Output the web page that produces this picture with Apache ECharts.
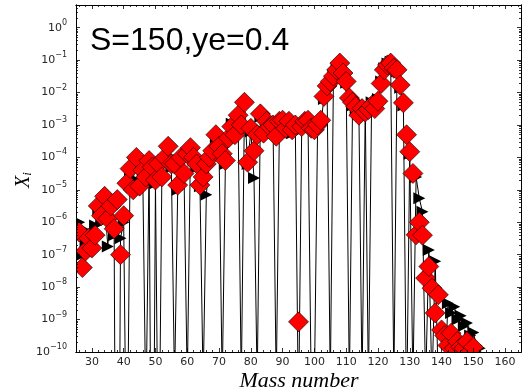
<!DOCTYPE html>
<html>
<head>
<meta charset="utf-8">
<script src="https://cdn.jsdelivr.net/npm/echarts@6/dist/echarts.min.js"></script>
<style>
  html, body { margin: 0; padding: 0; background: #fff; }
  #chart { width: 530px; height: 392px; }
</style>
</head>
<body>
<div id="chart"></div>
<script>
// Mass numbers A of the abundance distribution
const massNumber = [
  26, 27, 28, 29, 30, 31, 32, 33, 34, 35, 36, 37, 38, 39, 40, 41, 42, 43, 44, 45,
  46, 47, 48, 49, 50, 51, 52, 53, 54, 55, 56, 57, 58, 59, 60, 61, 62, 63, 64, 65,
  66, 67, 68, 69, 70, 71, 72, 73, 74, 75, 76, 77, 78, 79, 80, 81, 82, 83, 84, 85,
  86, 87, 88, 89, 90, 91, 92, 93, 94, 95, 96, 97, 98, 99, 100, 101, 102, 103, 104, 105,
  106, 107, 108, 109, 110, 111, 112, 113, 114, 115, 116, 117, 118, 119, 120, 121, 122, 123, 124, 125,
  126, 127, 128, 129, 130, 131, 132, 133, 134, 135, 136, 137, 138, 139, 140, 141, 142, 143, 144, 145,
  146, 147, 148, 149, 150, 151, 152, 153
];

// Mass fractions X_i, network run (black line with triangles); tiny entries fall below the axis
const xiTriangle = [
  1.0e-6, 1.0e-7, 2.5e-7, 5.0e-7, 1.3e-7, 7.9e-7, 2.5e-6, 1.0e-6, 5.0e-6, 1.8e-7,
  6.3e-6, 4.0e-7, 1.0e-26, 3.2e-7, 1.0e-6, 1.0e-15, 4.0e-5, 2.2e-5, 7.9e-5, 1.0e-5,
  3.2e-5, 1.0e-12, 6.3e-5, 1.0e-20, 1.6e-5, 1.0e-15, 2.0e-5, 7.9e-5, 1.6e-4, 5.0e-5,
  1.0e-11, 1.0e-5, 7.9e-5, 2.5e-5, 1.0e-11, 1.6e-4, 7.9e-5, 5.0e-5, 1.3e-5, 1.0e-11,
  7.1e-6, 7.9e-5, 1.3e-4, 4.0e-4, 2.0e-4, 1.0e-11, 6.3e-5, 3.2e-4, 1.1e-3, 4.0e-4,
  1.6e-3, 1.0e-11, 4.0e-3, 6.3e-5, 6.3e-4, 2.3e-5, 1.0e-11, 1.8e-3, 4.5e-4, 1.0e-3,
  7.9e-4, 7.9e-4, 1.0e-11, 1.0e-3, 1.1e-3, 6.3e-4, 1.0e-3, 5.6e-4, 7.9e-4, 1.0e-12,
  7.1e-4, 1.0e-3, 1.1e-3, 1.0e-11, 1.0e-11, 7.9e-4, 1.1e-3, 6.3e-3, 1.3e-2, 1.0e-11,
  3.5e-2, 5.6e-2, 7.1e-2, 4.5e-2, 2.0e-2, 1.0e-11, 4.0e-3, 2.8e-3, 2.5e-3, 1.0e-11,
  3.2e-3, 1.0e-11, 5.0e-3, 3.5e-3, 6.3e-3, 2.2e-2, 5.6e-2, 7.9e-2, 8.9e-2, 1.0e-11,
  4.5e-2, 1.4e-2, 4.0e-3, 1.0e-12, 1.3e-4, 1.0e-11, 2.5e-5, 5.5e-6, 2.1e-6, 1.0e-11,
  1.4e-7, 1.0e-11, 6.3e-8, 1.0e-11, 1.0e-11, 1.0e-11, 3.2e-9, 1.6e-9, 2.5e-9, 1.0e-9,
  1.3e-9, 6.3e-10, 7.9e-10, 3.2e-10, 4.0e-10, 1.6e-10, 1.3e-10, 6.3e-11
];

// Mass fractions X_i, comparison run (red diamonds)
const xiDiamond = [
  5.0e-7, 4.0e-8, 1.3e-7, 3.2e-7, 1.6e-7, 4.0e-7, 3.2e-6, 1.6e-6, 6.3e-6, 1.3e-6,
  3.2e-6, 6.3e-7, 5.0e-6, 1.0e-7, 1.6e-6, 1.6e-5, 4.5e-5, 1.0e-5, 1.0e-4, 1.3e-5,
  4.0e-5, 2.5e-5, 8.0e-5, 5.0e-5, 2.0e-5, 6.3e-5, 2.5e-5, 1.0e-4, 2.2e-4, 6.3e-5,
  6.3e-5, 1.4e-5, 1.0e-4, 3.2e-5, 1.3e-4, 2.0e-4, 1.0e-4, 6.3e-5, 1.4e-5, 2.5e-5,
  6.3e-5, 1.0e-4, 1.6e-4, 5.0e-4, 2.2e-4, 1.3e-4, 8.0e-5, 4.0e-4, 8.9e-4, 5.0e-4,
  2.0e-3, 1.0e-3, 5.0e-3, 7.1e-5, 7.9e-4, 1.6e-4, 5.0e-4, 2.2e-3, 5.6e-4, 1.3e-3,
  8.9e-4, 1.0e-3, 4.5e-4, 1.3e-3, 1.4e-3, 7.9e-4, 1.3e-3, 7.1e-4, 1.0e-3, 8.5e-10,
  8.9e-4, 1.3e-3, 1.4e-3, 7.9e-4, 7.1e-4, 1.0e-3, 1.4e-3, 7.6e-3, 1.6e-2, 2.2e-2,
  3.2e-2, 5.0e-2, 8.1e-2, 4.0e-2, 2.2e-2, 6.8e-3, 5.0e-3, 3.7e-3, 2.0e-3, 3.2e-3,
  2.5e-3, 3.0e-3, 4.0e-3, 3.2e-3, 5.4e-3, 1.9e-2, 5.0e-2, 7.1e-2, 8.1e-2, 5.6e-2,
  5.0e-2, 1.7e-2, 4.8e-3, 5.0e-4, 1.5e-4, 3.2e-5, 4.1e-7, 1.0e-6, 4.0e-7, 1.9e-8,
  4.3e-8, 9.3e-9, 1.6e-9, 5.8e-9, 4.8e-10, 3.2e-10, 1.6e-10, 3.8e-10, 1.3e-10, 2.1e-10,
  1.4e-10, 1.3e-10, 2.1e-10, 1.0e-10, 1.4e-10, 7.9e-11, 6.3e-11, null
];

// Axis ticks
const xTickValues = [30, 40, 50, 60, 70, 80, 90, 100, 110, 120, 130, 140, 150, 160];
const yTickValues = [1e-10, 1e-9, 1e-8, 1e-7, 1e-6, 1e-5, 1e-4, 1e-3, 1e-2, 1e-1, 1e0];

const X_MIN = 25, X_MAX = 165, Y_MIN = 1e-10, Y_MAX = 5;

// minor tick positions
const xMinor = [];
for (let v = 26; v < X_MAX; v += 2) if (v % 10 !== 0) xMinor.push(v);
const yMinor = [];
for (let e = -10; e <= 0; e++) for (let m = 2; m <= 9; m++) {
  const v = m * Math.pow(10, e);
  if (v <= Y_MAX) yMinor.push(v);
}

const INK = '#000';
const LABEL = '#262626';

function supLabel(v) {
  const e = Math.round(Math.log10(v));
  const s = e < 0 ? '\u2212' + (-e) : String(e);
  return '{b|10}{s|' + s + '}';
}

function xAxisCfg(position, ticks, len, withLabels) {
  return {
    type: 'value', gridIndex: 0, position: position, min: X_MIN, max: X_MAX, z: 10,
    axisLine: { show: withLabels !== null, lineStyle: { color: INK, width: 1 } },
    axisTick: { show: true, inside: true, length: len, customValues: ticks,
      lineStyle: { color: INK, width: 0.8 } },
    axisLabel: withLabels ? {
      show: true, customValues: xTickValues, margin: 5, fontSize: 11,
      fontFamily: 'DejaVu Sans', color: LABEL
    } : { show: false },
    splitLine: { show: false }
  };
}

function yAxisCfg(position, ticks, len, withLabels) {
  return {
    type: 'log', logBase: 10, gridIndex: 0, position: position, min: Y_MIN, max: Y_MAX, z: 10,
    axisLine: { show: withLabels !== null, lineStyle: { color: INK, width: 1 } },
    axisTick: { show: true, inside: true, length: len, customValues: ticks,
      lineStyle: { color: INK, width: 0.8 } },
    axisLabel: withLabels ? {
      show: true, customValues: yTickValues, margin: 9, formatter: supLabel,
      rich: {
        b: { fontSize: 11, fontFamily: 'DejaVu Sans', color: LABEL },
        s: { fontSize: 8, fontFamily: 'DejaVu Sans', color: LABEL, padding: [0, 0, 10, 0] }
      }
    } : { show: false },
    splitLine: { show: false }
  };
}

const triangleData = massNumber.map((a, i) => [a, xiTriangle[i]]);
const diamondData = [];
massNumber.forEach((a, i) => { if (xiDiamond[i] !== null) diamondData.push([a, xiDiamond[i]]); });

const chart = echarts.init(document.getElementById('chart'), null, { renderer: 'canvas' });
chart.setOption({
  animation: false,
  backgroundColor: '#fff',
  grid: { left: 76, right: 9, top: 5, bottom: 40, containLabel: false },
  xAxis: [
    xAxisCfg('bottom', xTickValues, 4, true),
    xAxisCfg('bottom', xMinor, 2, false),
    xAxisCfg('top', xTickValues, 4, false),
    xAxisCfg('top', xMinor, 2, false)
  ],
  yAxis: [
    yAxisCfg('left', yTickValues, 4, true),
    yAxisCfg('left', yMinor, 2, false),
    yAxisCfg('right', yTickValues, 4, false),
    yAxisCfg('right', yMinor, 2, false)
  ],
  series: [
    {
      type: 'line', xAxisIndex: 0, yAxisIndex: 0, data: triangleData,
      clip: true, z: 2,
      lineStyle: { color: INK, width: 1 },
      symbol: 'triangle', symbolRotate: -90, symbolSize: 12, showSymbol: true,
      itemStyle: { color: INK, borderWidth: 0 }
    },
    {
      type: 'scatter', xAxisIndex: 0, yAxisIndex: 0, data: diamondData,
      clip: true, z: 3,
      symbol: 'diamond', symbolSize: 20,
      itemStyle: { color: '#ff0000', borderColor: '#000', borderWidth: 0.6, opacity: 1 }
    }
  ],
  graphic: [
    // keep markers inside the frame
    { type: 'rect', z: 5, silent: true, shape: { x: 0, y: 0, width: 76, height: 392 }, style: { fill: '#fff' } },
    { type: 'rect', z: 5, silent: true, shape: { x: 0, y: 352.5, width: 530, height: 40 }, style: { fill: '#fff' } },
    {
      type: 'text', z: 20, x: 90, y: 41,
      style: { text: 'S=150,ye=0.4', font: '32px "Liberation Sans"', fill: '#000',
        align: 'left', verticalAlign: 'middle' }
    },
    {
      type: 'text', z: 20, x: 299, y: 381,
      style: { text: 'Mass number', font: 'italic 22px "Liberation Serif"', fill: '#000',
        align: 'center', verticalAlign: 'middle' }
    },
    {
      type: 'text', z: 20, x: 24, y: 180, rotation: Math.PI / 2,
      style: {
        text: '{x|X}{i|i}', align: 'center', verticalAlign: 'middle',
        rich: {
          x: { font: 'italic 20px "Liberation Serif"', fill: '#000' },
          i: { font: 'italic 13px "Liberation Serif"', fill: '#000', padding: [8, 0, 0, 0] }
        }
      }
    }
  ]
});
</script>
</body>
</html>
